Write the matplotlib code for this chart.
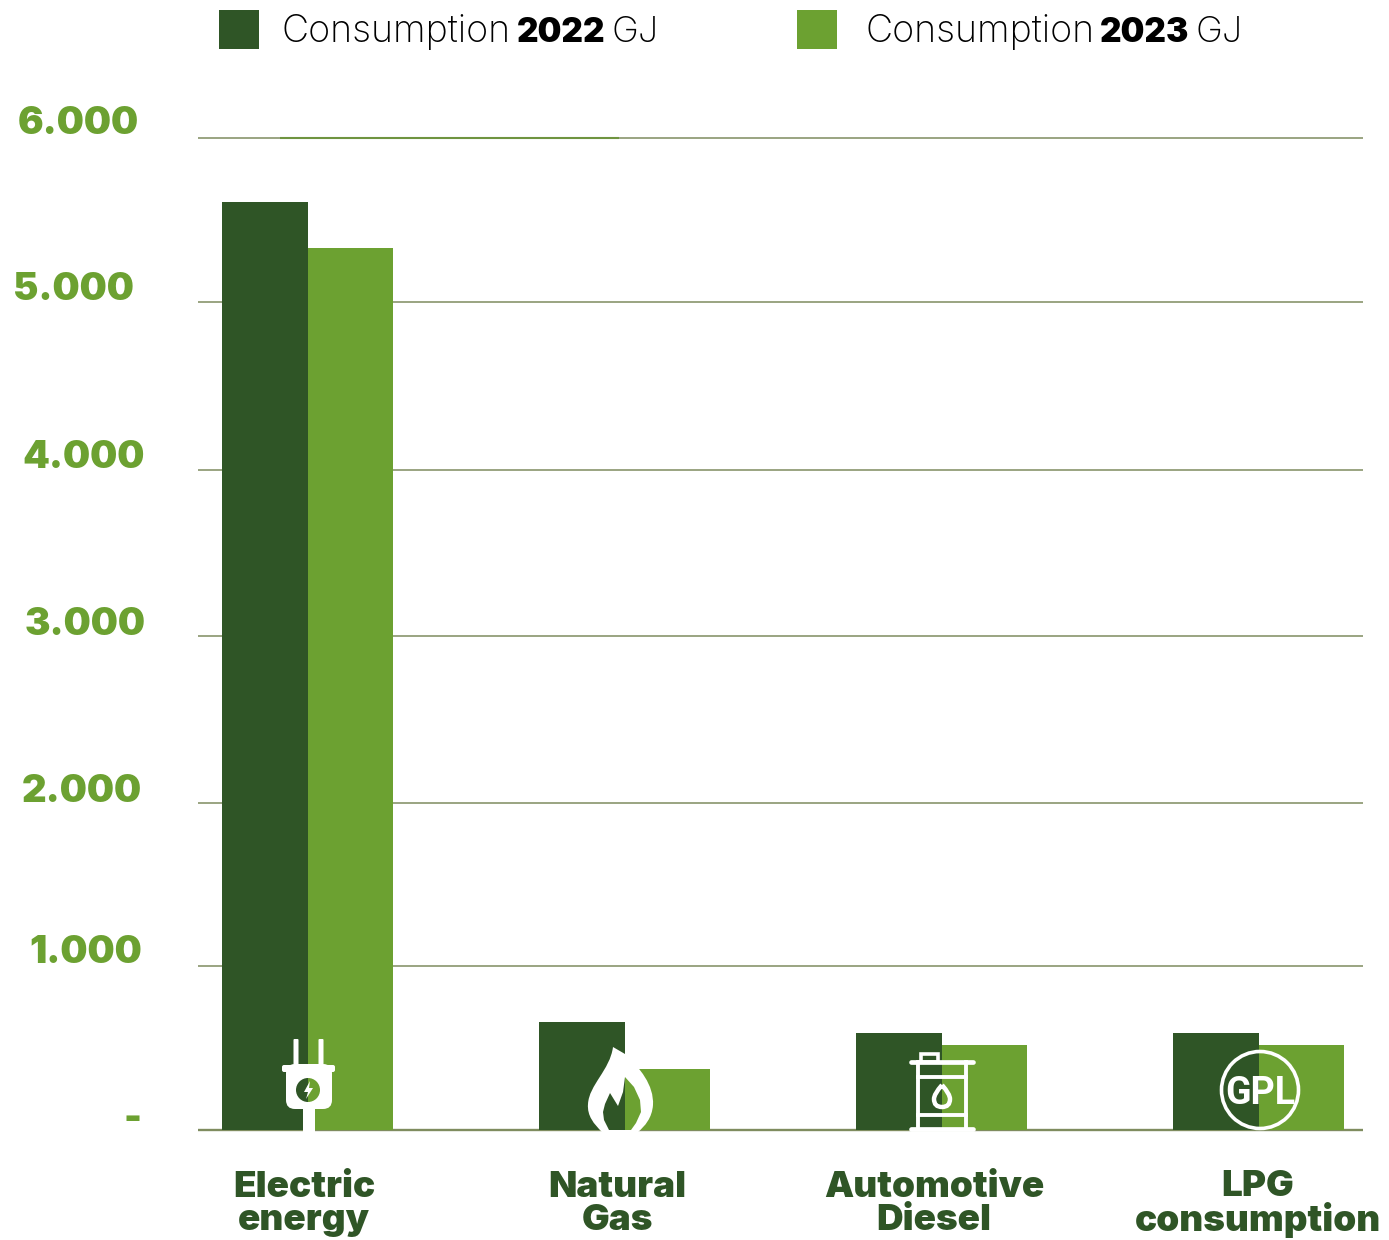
import matplotlib
matplotlib.use('Agg')
from matplotlib import pyplot as plt
from matplotlib.patches import Rectangle, Circle, FancyBboxPatch, PathPatch, Wedge, Polygon
from matplotlib.path import Path
import numpy as np

categories = ['Electric\nenergy', 'Natural\nGas', 'Automotive\nDiesel', 'LPG\nconsumption']
consumption_2022 = [5610, 652, 586, 586]
consumption_2023 = [5335, 368, 513, 513]
grid_levels = [991, 1976, 2985, 3988, 5003, 6000]
y_labels = ['6.000', '5.000', '4.000', '3.000', '2.000', '1.000', '-']

DARK = '#2F5526'
LIGHT = '#6CA131'
GRID = '#7F8C5F'
W, H = 1389, 1240

fig = plt.figure(figsize=(W / 100, H / 100), dpi=100, facecolor='white')

# main axes cover the plot area, left 198 to 1363, top 137 to bottom 1130
ax = fig.add_axes([197.5 / W, 1 - 1130 / H, (1363 - 197.5) / W, (1130 - 137.5) / H])
ax.set_xlim(-110 / 317, 1055 / 317)
ax.set_ylim(0, 6000)
ax.axis('off')
x = np.arange(len(categories))
bw = 85.5 / 317
ax.hlines(grid_levels, -110 / 317, 1055 / 317, color=GRID, lw=1.1, zorder=1, clip_on=False)
ax.hlines(0, -110 / 317, 1055 / 317, color=GRID, lw=1.7, zorder=1, clip_on=False)
ax.hlines(6000, -28 / 317, 311 / 317, color='#6F9440', lw=1.5, zorder=1.5, clip_on=False)
ax.bar(x - bw / 2, consumption_2022, bw, color=DARK, zorder=2)
ax.bar(x + bw / 2, consumption_2023, bw, color=LIGHT, zorder=2)

# overlay in pixel coordinates for legend, labels and the icons
ov = fig.add_axes([0, 0, 1, 1])
ov.set_xlim(0, W)
ov.set_ylim(H, 0)
ov.axis('off')
ov.patch.set_alpha(0)


def heavy(txt, x0, y0, color, size, ha='center', va='center'):
    return ov.text(x0, y0, txt, color=color, fontsize=size, ha=ha, va=va,
                   family='Inter', fontweight='black', linespacing=0.98)


# legend
ov.add_patch(Rectangle((219, 10), 40, 39, color=DARK, lw=0))
ov.add_patch(Rectangle((797, 10), 40, 39, color=LIGHT, lw=0))
for x0, yr in ((282, '2022'), (865, '2023')):
    ov.text(x0, 42, 'Consumption', fontsize=27, family='Inter', fontweight='light', va='baseline', color='black')
    heavy(yr, x0 + 235, 42, 'black', 24, ha='left', va='baseline')
    ov.text(x0 + 330, 42, 'GJ', fontsize=26, family='Inter', fontweight='light', va='baseline', color='black')

# y labels sit a little off their gridlines in the source
for lab, lx, ly in zip(y_labels, [78, 73, 84, 85, 82, 86, 132], [124, 290, 458, 625, 792, 953, 1119]):
    heavy(lab, lx, ly, LIGHT, 27.5)

for cat, lx in zip(categories, [304, 617, 934, 1258]):
    heavy(cat, lx, 1204, DARK, 26.5)

# plug icon
for px in (296, 321):
    ov.add_patch(FancyBboxPatch((px - 1.5, 1040), 3, 24, boxstyle='round,pad=1', color='white', lw=0, zorder=5))
ov.add_patch(FancyBboxPatch((284, 1067), 49, 3, boxstyle='round,pad=2', color='white', lw=0, zorder=5))
ov.add_patch(FancyBboxPatch((295, 1073), 28, 27, boxstyle='round,pad=9', color='white', lw=0, zorder=5))
ov.add_patch(Rectangle((286.5, 1073), 44, 14, color='white', lw=0, zorder=5))
ov.add_patch(Rectangle((303, 1109), 12, 23, color='white', lw=0, zorder=5))
ov.add_patch(Wedge((308, 1090), 12, 90, 270, color=DARK, lw=0, zorder=6))
ov.add_patch(Wedge((308, 1090), 12, 270, 90, color=LIGHT, lw=0, zorder=6))
ov.add_patch(Polygon([(310, 1081), (304, 1092), (308, 1092), (306, 1099), (313, 1088), (309, 1088)],
                     color='white', lw=0, zorder=7))

# flame icon
C3, C4 = Path.CURVE3, Path.CURVE4
flame = Path([(613, 1047), (625, 1054), (640, 1068), (654, 1085), (653, 1105), (652, 1118), (645, 1126), (638, 1132),
              (602, 1132), (594, 1124), (587, 1116), (588, 1104), (589, 1085), (610, 1070), (613, 1047), (613, 1047)],
             [Path.MOVETO, Path.LINETO, C4, C4, C4, C4, C4, C4, Path.LINETO, C4, C4, C4, C4, C4, C4, Path.CLOSEPOLY])
ov.add_patch(PathPatch(flame, fc='white', ec='none', zorder=5))
ov.add_patch(Polygon([(609, 1130), (604, 1120), (603, 1112), (605, 1104), (610, 1093), (618, 1106), (623, 1092), (625, 1077), (625, 1130)],
                     fc=DARK, ec='none', zorder=6))
ov.add_patch(Polygon([(625, 1077), (634, 1087), (640, 1100), (641, 1112), (636, 1123), (631, 1130), (625, 1130)],
                     fc=LIGHT, ec='none', zorder=6))

# barrel icon
ov.add_patch(Rectangle((921, 1054), 17, 8, fc='none', ec='white', lw=2.6, zorder=5))
ov.plot([911, 973], [1062, 1062], color='white', lw=3.4, solid_capstyle='round', zorder=6)
ov.plot([911, 973], [1129, 1129], color='white', lw=3.4, solid_capstyle='round', zorder=6)
for vx in (918, 966):
    ov.plot([vx, vx], [1062, 1129], color='white', lw=2.8, zorder=5)
for hy in (1077, 1115):
    ov.plot([918, 966], [hy, hy], color='white', lw=2.8, zorder=5)
drop = Path([(942, 1085), (950, 1094), (950, 1099), (950, 1107), (942, 1107), (934, 1107), (934, 1099), (934, 1094), (942, 1085)],
            [Path.MOVETO, C3, C3, C3, C3, C3, C3, C3, C3])
ov.add_patch(PathPatch(drop, fc=DARK, ec='none', zorder=5))
drop_right = PathPatch(drop, fc=LIGHT, ec='none', zorder=5.1)
ov.add_patch(drop_right)
drop_right.set_clip_path(Rectangle((942, 1080), 10, 30, transform=ov.transData))
ov.add_patch(PathPatch(drop, fc='none', ec='white', lw=3.2, zorder=5.2))

# GPL icon
ov.add_patch(Circle((1260, 1090), 38.5, fc='none', ec='white', lw=2.6, zorder=5))
ov.text(1260, 1104, 'GPL', color='white', fontsize=27, family='Roboto',
        fontweight='bold', ha='center', va='baseline', zorder=6)

plt.savefig('out.png', dpi=100)
